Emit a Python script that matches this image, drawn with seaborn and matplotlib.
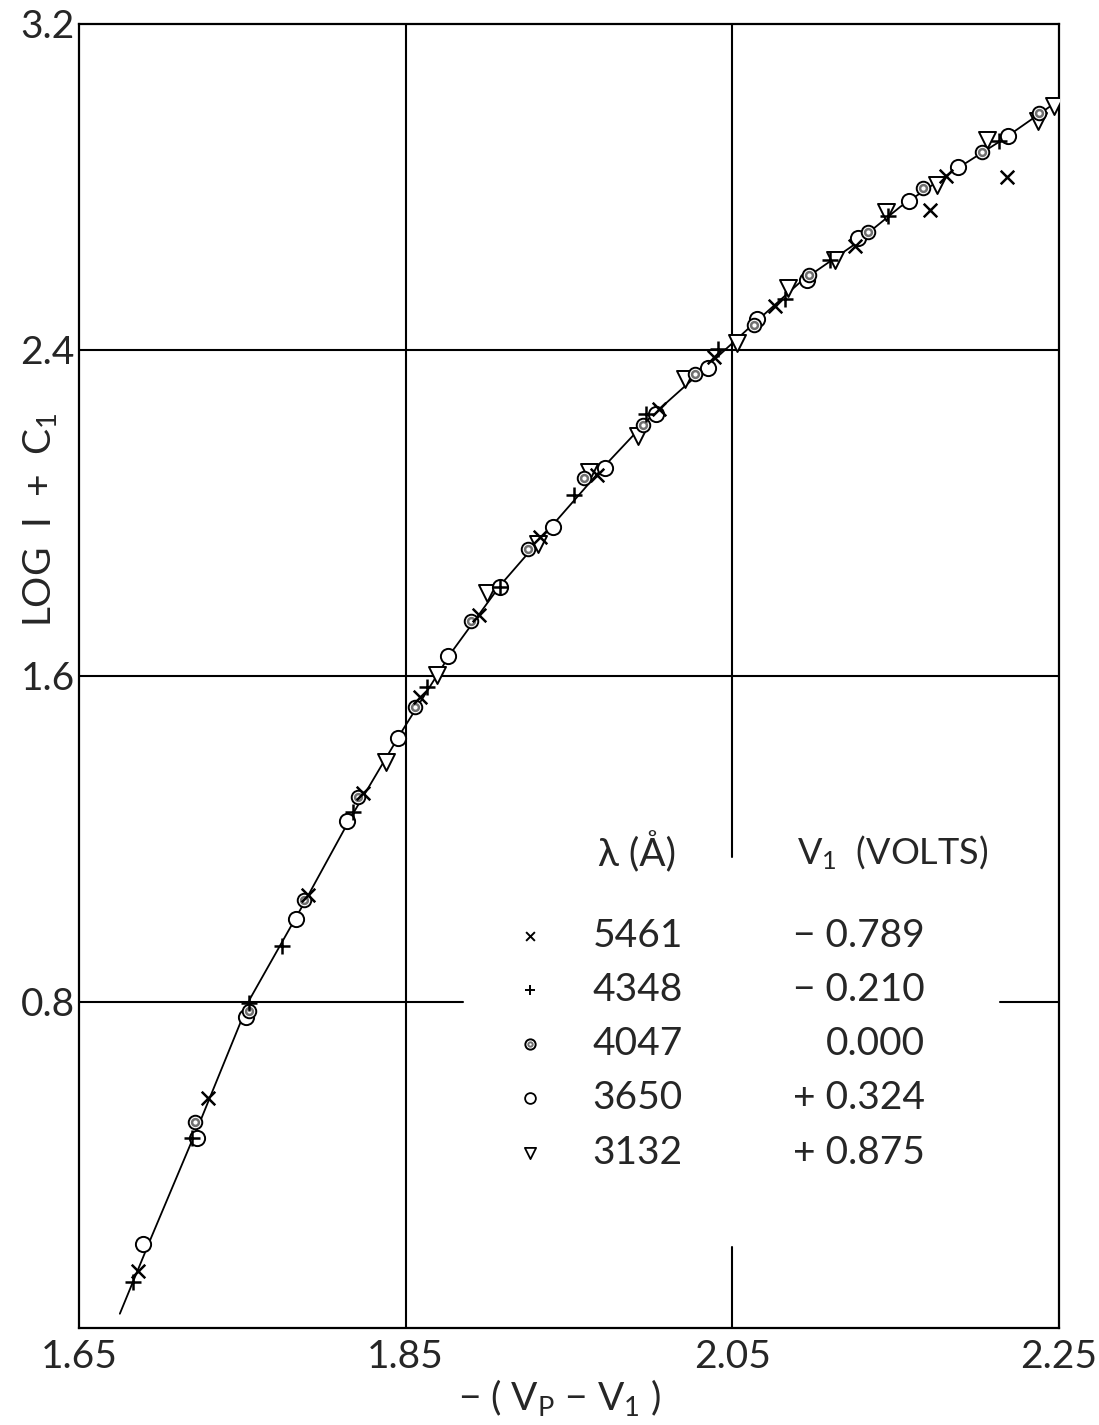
import matplotlib
matplotlib.use("AGG")
import matplotlib.pyplot as plt
import seaborn as sns

# fitted curve
curve_x = [1.675, 1.694, 1.725, 1.755, 1.786, 1.817, 1.847, 1.878, 1.908, 1.939,
           1.970, 2.000, 2.031, 2.061, 2.092, 2.123, 2.153, 2.184, 2.215, 2.250]
curve_y = [0.035, 0.220, 0.515, 0.810, 1.030, 1.257, 1.460, 1.658, 1.823, 1.966,
           2.108, 2.236, 2.347, 2.457, 2.568, 2.654, 2.752, 2.836, 2.915, 3.013]

# 5461 A  (x)
x_5461 = [1.686, 1.729, 1.790, 1.824, 1.859, 1.895, 1.932, 1.967, 2.005, 2.039,
          2.076, 2.125, 2.171, 2.181, 2.218]
y_5461 = [0.139, 0.564, 1.063, 1.312, 1.548, 1.749, 1.941, 2.093, 2.256, 2.384,
          2.507, 2.654, 2.743, 2.826, 2.824]

# 4348 A  (+)
x_4348 = [1.683, 1.719, 1.754, 1.774, 1.818, 1.863, 1.908, 1.953, 1.997, 2.041,
          2.082, 2.110, 2.145, 2.213]
y_4348 = [0.114, 0.466, 0.798, 0.938, 1.267, 1.572, 1.818, 2.044, 2.243, 2.403,
          2.526, 2.622, 2.730, 2.912]

# 4047 A  (double circle)
x_4047 = [1.721, 1.754, 1.788, 1.821, 1.856, 1.890, 1.925, 1.959, 1.995, 2.027,
          2.063, 2.097, 2.133, 2.167, 2.203, 2.238]
y_4047 = [0.505, 0.778, 1.051, 1.304, 1.525, 1.734, 1.912, 2.086, 2.216, 2.342,
          2.462, 2.583, 2.689, 2.797, 2.885, 2.981]

# 3650 A  (open circle)
x_3650 = [1.689, 1.722, 1.752, 1.783, 1.814, 1.845, 1.876, 1.908, 1.940, 1.972,
          2.003, 2.035, 2.065, 2.096, 2.127, 2.158, 2.188, 2.219]
y_3650 = [0.205, 0.466, 0.763, 1.004, 1.245, 1.449, 1.648, 1.818, 1.966, 2.111,
          2.243, 2.357, 2.477, 2.573, 2.676, 2.765, 2.848, 2.925]

# 3132 A  (triangle)
x_3132 = [1.838, 1.869, 1.900, 1.931, 1.962, 1.992, 2.021, 2.053, 2.084, 2.113,
          2.144, 2.175, 2.206, 2.237, 2.247]
y_3132 = [1.388, 1.602, 1.803, 1.924, 2.101, 2.189, 2.330, 2.418, 2.551, 2.622,
          2.738, 2.804, 2.915, 2.962, 2.998]

wavelengths = ["5461", "4348", "4047", "3650", "3132"]
v1_volts = ["\u2212 0.789", "\u2212 0.210", "0.000", "+ 0.324", "+ 0.875"]

x_ticks = [1.65, 1.85, 2.05, 2.25]
x_tick_labels = ["1.65", "1.85", "2.05", "2.25"]
y_ticks = [0.8, 1.6, 2.4, 3.2]
y_tick_labels = ["0.8", "1.6", "2.4", "3.2"]

sns.set_theme(style="white")
plt.rcParams["font.family"] = ["Lato", "DejaVu Sans"]
plt.rcParams["mathtext.fontset"] = "custom"
plt.rcParams["mathtext.rm"] = "Lato"
plt.rcParams["mathtext.it"] = "Lato"
plt.rcParams["mathtext.bf"] = "Lato"

fig = plt.figure(figsize=(10.99, 14.25), dpi=100)
ax = fig.add_axes([79 / 1099, 1 - 1328 / 1425, 980 / 1099, 1304 / 1425])
ax.set_xlim(1.65, 2.25)
ax.set_ylim(0.0, 3.2)

# grid lines, some broken where the legend sits
lw = 1.5
ax.axvline(1.85, color="black", lw=lw, zorder=1)
ax.axhline(1.6, color="black", lw=lw, zorder=1)
ax.axhline(2.4, color="black", lw=lw, zorder=1)
ax.plot([2.05, 2.05], [0.0, 0.2], color="black", lw=lw, zorder=1)
ax.plot([2.05, 2.05], [1.155, 3.2], color="black", lw=lw, zorder=1)
ax.plot([1.65, 1.885], [0.8, 0.8], color="black", lw=lw, zorder=1)
ax.plot([2.214, 2.25], [0.8, 0.8], color="black", lw=lw, zorder=1)

sns.lineplot(x=curve_x, y=curve_y, sort=False, color="black", lw=1.3, ax=ax, zorder=2)

sns.scatterplot(x=x_3132, y=y_3132, marker="v", s=150, color="white",
                edgecolor="black", linewidth=1.4, ax=ax, zorder=3)
sns.scatterplot(x=x_3650, y=y_3650, marker="o", s=120, color="white",
                edgecolor="black", linewidth=1.4, ax=ax, zorder=4)
sns.scatterplot(x=x_4047, y=y_4047, marker="o", s=95, color="white",
                edgecolor="black", linewidth=1.4, ax=ax, zorder=5)
sns.scatterplot(x=x_4047, y=y_4047, marker="o", s=24, color="white",
                edgecolor="#707070", linewidth=1.8, ax=ax, zorder=6)
sns.scatterplot(x=x_5461, y=y_5461, marker="x", s=95, color="black",
                linewidth=1.8, ax=ax, zorder=7)
sns.scatterplot(x=x_4348, y=y_4348, marker="+", s=120, color="black",
                linewidth=1.8, ax=ax, zorder=7)

# hand-lettered key inside the plot
tr = ax.transAxes
key_x = 0.460
rows = [0.3006, 0.2592, 0.2178, 0.1764, 0.1342]
ax.scatter(key_x, rows[0], marker="x", s=40, color="black", linewidths=1.4, transform=tr)
ax.scatter(key_x, rows[1], marker="+", s=55, color="black", linewidths=1.4, transform=tr)
ax.scatter(key_x, rows[2], marker="o", s=55, facecolor="white", edgecolor="black",
           linewidths=1.4, transform=tr)
ax.scatter(key_x, rows[2], marker="o", s=10, facecolor="white", edgecolor="#707070",
           linewidths=1.4, transform=tr)
ax.scatter(key_x, rows[3], marker="o", s=60, facecolor="white", edgecolor="black",
           linewidths=1.3, transform=tr)
ax.scatter(key_x, rows[4], marker="v", s=65, facecolor="white", edgecolor="black",
           linewidths=1.3, transform=tr)
fs = 28
for r, wl, v in zip(rows, wavelengths, v1_volts):
    ax.text(0.524, r, wl, transform=tr, fontsize=fs, ha="left", va="center")
    ax.text(0.863, r, v, transform=tr, fontsize=fs, ha="right", va="center")
ax.text(0.530, 0.3643, "\u03bb (\u00c5)", transform=tr, fontsize=fs, ha="left", va="center")
ax.text(0.733, 0.3643, "V$_{1}$  (VOLTS)", transform=tr, fontsize=fs - 2, ha="left", va="center")

ax.set_xticks(x_ticks, x_tick_labels)
ax.set_yticks(y_ticks, y_tick_labels)
ax.tick_params(length=0, labelsize=28)
ax.tick_params(axis="x", pad=8)
ax.tick_params(axis="y", pad=3)

ax.set_xlabel("\u2212 ( V$_{P}$ \u2212 V$_{1}$ )", fontsize=28, va="center")
ax.set_ylabel("LOG  I  +  C$_{1}$", fontsize=28, va="center")
ax.xaxis.set_label_coords(0.49, -0.053)
ax.yaxis.set_label_coords(-0.04, 0.62)

for sp in ax.spines.values():
    sp.set_color("black")
    sp.set_linewidth(1.6)

fig.savefig("out.png", dpi=100)
